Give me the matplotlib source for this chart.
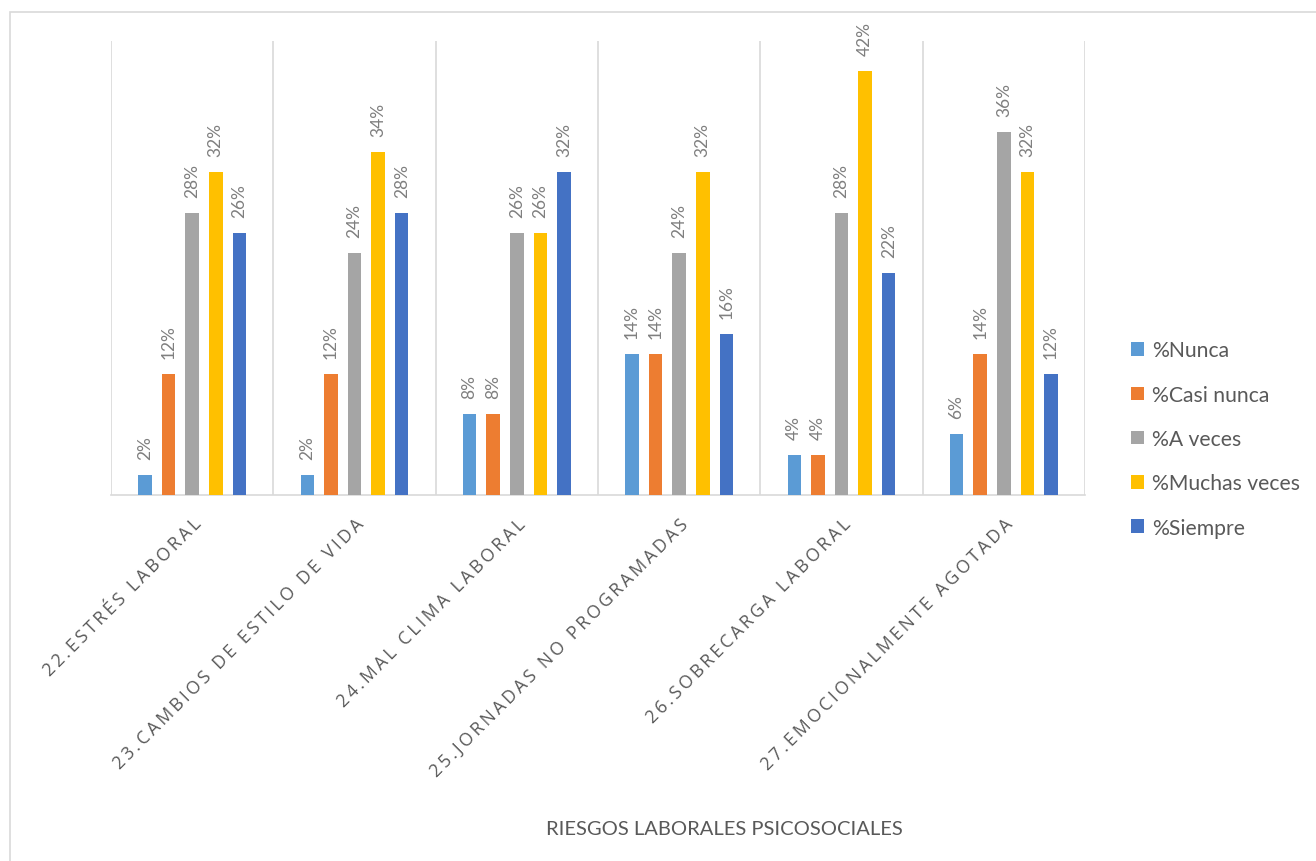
import numpy as np
import matplotlib.pyplot as plt
from matplotlib.patches import Rectangle

categories = ["22.ESTRÉS LABORAL", "23.CAMBIOS DE ESTILO DE VIDA", "24.MAL CLIMA LABORAL",
              "25.JORNADAS NO PROGRAMADAS", "26.SOBRECARGA LABORAL", "27.EMOCIONALMENTE AGOTADA"]
series = ["%Nunca", "%Casi nunca", "%A veces", "%Muchas veces", "%Siempre"]
nunca = [2, 2, 8, 14, 4, 6]
casi_nunca = [12, 12, 8, 14, 4, 14]
a_veces = [28, 24, 26, 24, 28, 36]
muchas_veces = [32, 34, 26, 32, 42, 32]
siempre = [26, 28, 32, 16, 22, 12]
values = [nunca, casi_nunca, a_veces, muchas_veces, siempre]
colors = ["#5b9bd5", "#ed7d31", "#a5a5a5", "#ffc000", "#4472c4"]

W, H = 1316, 862
fig = plt.figure(figsize=(W / 100, H / 100), dpi=100)
ax = fig.add_axes([111 / W, 1 - 496 / H, (1085 - 111) / W, (496 - 42) / H])

# outer chart border
fig.patches.append(Rectangle((10 / W, -0.01), 1.0, 1 - 13 / H + 0.01, transform=fig.transFigure,
                             fill=False, edgecolor="#d9d9d9", linewidth=1.2))

x = np.arange(len(categories))
step = 0.1455
width = 0.083
for i, (name, vals, c) in enumerate(zip(series, values, colors)):
    pos = x + (i - 2) * step
    ax.bar(pos, vals, width, color=c, label=name, zorder=3)
    for p, v in zip(pos, vals):
        ax.annotate(f"{v}%", (p, v), xytext=(0, 11.5), textcoords="offset points",
                    rotation=90, ha="center", va="bottom", fontsize=12.5,
                    family=["Lato", "DejaVu Sans"], color="#7f7f7f")

ax.set_xlim(-0.5, len(categories) - 0.5)
ax.set_ylim(0, 45)
for b in np.arange(-0.5, len(categories), 1):
    ax.axvline(b, color="#d9d9d9", linewidth=1.2, zorder=1)

for s in ["left", "right", "top"]:
    ax.spines[s].set_visible(False)
ax.spines["bottom"].set_color("#d9d9d9")
ax.spines["bottom"].set_linewidth(1.2)
ax.set_yticks([])
ax.set_xticks(x)
spaced = ["\u2009".join(list(c)) for c in categories]
ax.set_xticklabels(spaced, rotation=45, ha="right", va="top", rotation_mode="anchor",
                   fontsize=12.8, family=["Open Sans", "DejaVu Sans"], color="#595959")
ax.tick_params(axis="x", length=0, pad=14)

fig.text(724 / W, 1 - 830 / H, "RIESGOS LABORALES PSICOSOCIALES", ha="center", va="center",
         fontsize=14.5, family=["Lato", "DejaVu Sans"], color="#595959")

fig.legend(loc="center left", bbox_to_anchor=(1112 / W, 1 - 440 / H), frameon=False,
           prop={"family": ["Lato", "DejaVu Sans"], "size": 15.2}, labelcolor="#595959",
           handlelength=0.6, handleheight=0.6, handletextpad=0.4, labelspacing=1.15)

fig.savefig("out.png", dpi=100)
